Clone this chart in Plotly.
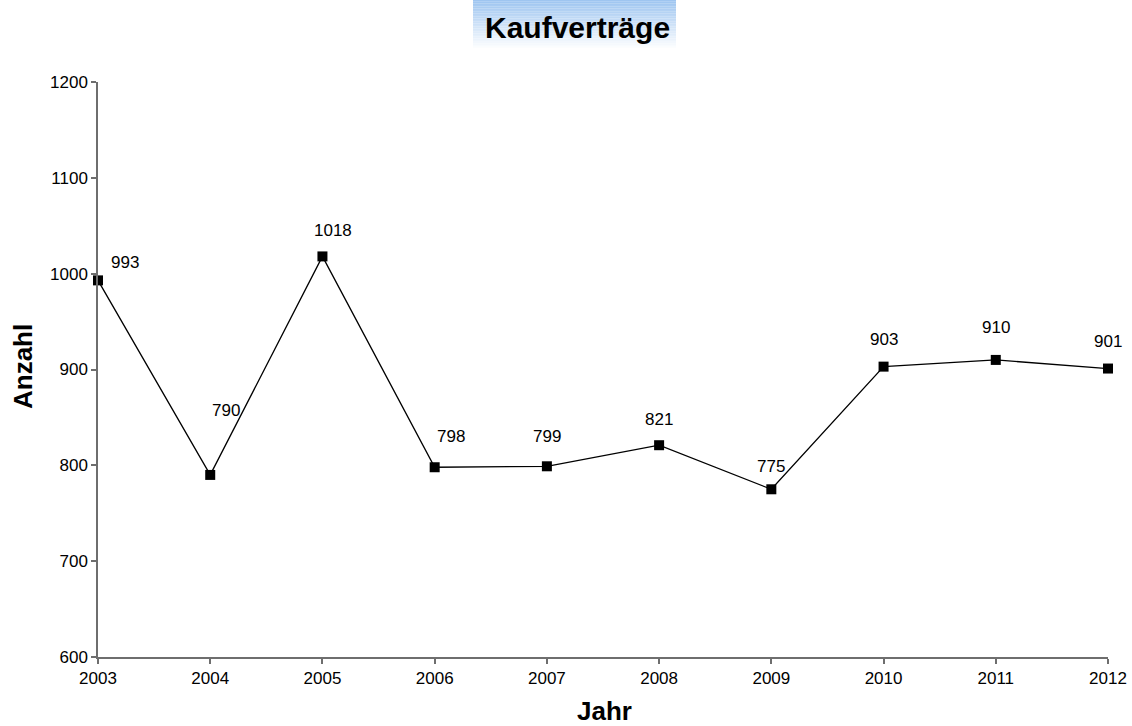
import plotly.graph_objects as go

years = [2003, 2004, 2005, 2006, 2007, 2008, 2009, 2010, 2011, 2012]
counts = [993, 790, 1018, 798, 799, 821, 775, 903, 910, 901]
# label offsets in pixels (style only): right, up
label_dx = [27, 16, 11, 16, 0, 0, 0, 0, 0, 0]
label_dy = [18, 64, 26, 31, 30, 26, 23, 27, 32, 27]

FONT = "Liberation Sans, Arial, sans-serif"
W, H = 1132, 726
ml, mt = 98, 82
mr = W - 1108
mb = H - 657
pw, ph = W - ml - mr, H - mt - mb

fig = go.Figure()
fig.add_trace(go.Scatter(
    x=years, y=counts, mode="lines+markers",
    line=dict(color="black", width=1.3),
    marker=dict(symbol="square", size=10, color="black"),
    hoverinfo="x+y", showlegend=False, cliponaxis=False,
))

for x, y, dx, dy in zip(years, counts, label_dx, label_dy):
    fig.add_annotation(x=x, y=y, text=str(y), showarrow=False,
                       xshift=dx, yshift=dy,
                       font=dict(family=FONT, size=17, color="black"))

def px2x(px):
    return (px - ml) / pw

def py2y(py):
    return 1 + (mt - py) / ph

# title gradient background
x0, x1, y0, y1 = 473, 676, 0, 50
n = 30
top = (158, 197, 240)
for i in range(n):
    t = i / (n - 1)
    c = tuple(int(round(top[k] + (255 - top[k]) * t)) for k in range(3))
    fig.add_shape(type="rect", xref="paper", yref="paper",
                  x0=px2x(x0), x1=px2x(x1),
                  y0=py2y(y0 + (y1 - y0) * (i + 1) / n),
                  y1=py2y(y0 + (y1 - y0) * i / n),
                  fillcolor="rgb(%d,%d,%d)" % c, line=dict(width=0), layer="below")

fig.add_annotation(xref="paper", yref="paper", x=px2x(577), y=py2y(28),
                   xanchor="center", yanchor="middle",
                   text="<b>Kaufverträge</b>", showarrow=False,
                   font=dict(family=FONT, size=30, color="black"))

fig.add_annotation(xref="paper", yref="paper", x=px2x(604), y=py2y(711),
                   xanchor="center", yanchor="middle",
                   text="<b>Jahr</b>", showarrow=False,
                   font=dict(family=FONT, size=26, color="black"))

fig.add_annotation(xref="paper", yref="paper", x=px2x(23), y=py2y(367),
                   xanchor="center", yanchor="middle", textangle=-90,
                   text="<b>Anzahl</b>", showarrow=False,
                   font=dict(family=FONT, size=26, color="black"))

axis_common = dict(
    showgrid=False, zeroline=False, showline=True, linecolor="#6e6e6e", linewidth=1.5,
    ticks="outside", ticklen=5, tickcolor="#6e6e6e", tickwidth=1.5,
    tickfont=dict(family=FONT, size=17, color="black"), automargin=False,
)

fig.update_layout(
    width=W, height=H,
    margin=dict(l=ml, r=mr, t=mt, b=mb, autoexpand=False),
    paper_bgcolor="white", plot_bgcolor="white",
    xaxis=dict(range=[2003, 2012], tickmode="array", tickvals=years,
               ticktext=[str(y) for y in years], **axis_common),
    yaxis=dict(range=[600, 1200], tickmode="array",
               tickvals=[600, 700, 800, 900, 1000, 1100, 1200], **axis_common),
)

fig.write_html("out.html", config={"displayModeBar": False},
               post_script="document.body.style.margin='0';document.body.style.overflow='hidden';")
